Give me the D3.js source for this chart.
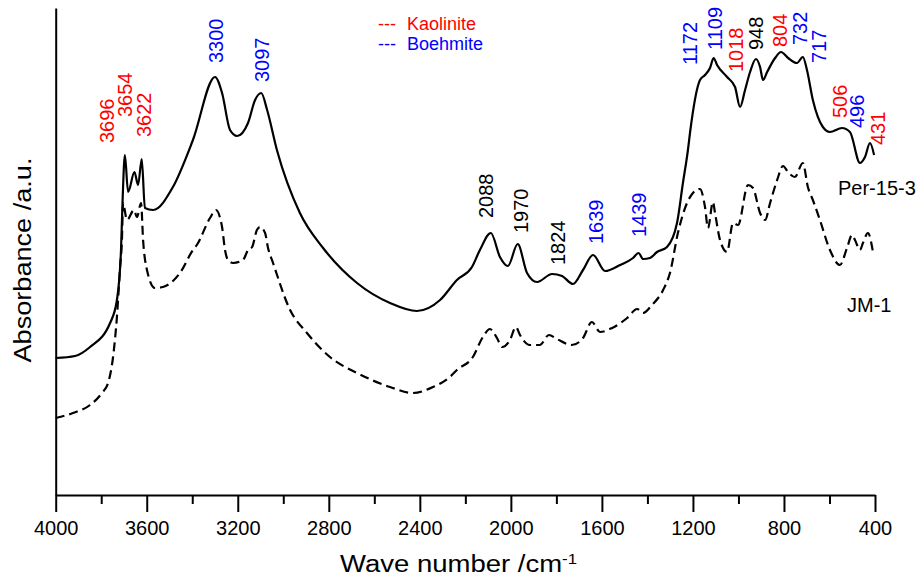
<!DOCTYPE html>
<html>
<head>
<meta charset="utf-8">
<script src="https://cdn.jsdelivr.net/npm/d3@7"></script>
<style>
  body { margin: 0; background: #fff; }
  text { font-family: Arial, "Liberation Sans", sans-serif; }
</style>
</head>
<body>
<div id="chart"></div>
<script>
// Per-15-3 spectrum (solid) : wave number (cm-1), absorbance (a.u.)
const per15Wave = [4000, 3915, 3849, 3761, 3731, 3713, 3706, 3696, 3682, 3654, 3638, 3622, 3608, 3572, 3485, 3397,
  3300, 3269, 3234, 3203, 3155, 3124, 3097, 3071, 3028, 2927, 2825, 2676, 2531, 2413, 2311, 2237, 2171, 2136,
  2088, 2048, 2013, 1970, 1929, 1885, 1819, 1775, 1727, 1683, 1639, 1586, 1520, 1463, 1439, 1419, 1389, 1358,
  1314, 1270, 1244, 1222, 1213, 1169, 1147, 1125, 1109, 1094, 1050, 1015, 993, 971, 949, 923, 905, 892, 874,
  839, 813, 782, 743, 717, 699, 673, 629, 598, 545, 510, 466, 444, 422, 404];
const per15Abs = [1.37, 1.39, 1.48, 1.72, 1.95, 2.45, 2.95, 3.40, 3.03, 3.23, 3.10, 3.36, 2.87, 2.85, 3.08, 3.55,
  4.18, 4.02, 3.65, 3.59, 3.72, 3.95, 4.02, 3.85, 3.45, 2.82, 2.47, 2.12, 1.92, 1.84, 1.95, 2.15, 2.28, 2.45,
  2.62, 2.38, 2.29, 2.51, 2.22, 2.13, 2.21, 2.19, 2.11, 2.25, 2.40, 2.24, 2.30, 2.37, 2.42, 2.36, 2.37, 2.43,
  2.48, 2.72, 3.12, 3.45, 3.62, 4.15, 4.20, 4.27, 4.37, 4.30, 4.18, 4.08, 3.88, 4.05, 4.23, 4.36, 4.28, 4.15, 4.23,
  4.37, 4.43, 4.37, 4.32, 4.38, 4.25, 3.95, 3.68, 3.63, 3.67, 3.63, 3.32, 3.38, 3.52, 3.40];

// JM-1 spectrum (dashed)
const jm1Wave = [4000, 3924, 3849, 3797, 3770, 3748, 3731, 3717, 3709, 3704, 3687, 3656, 3643, 3625, 3616, 3599,
  3564, 3529, 3454, 3397, 3380, 3322, 3296, 3269, 3256, 3243, 3221, 3177, 3155, 3137, 3116, 3102, 3080, 3067,
  3045, 2970, 2896, 2795, 2676, 2531, 2430, 2342, 2268, 2237, 2167, 2123, 2092, 2061, 2039, 2004, 1978, 1960,
  1917, 1873, 1833, 1798, 1732, 1683, 1644, 1608, 1555, 1489, 1445, 1419, 1380, 1331, 1301, 1266, 1226, 1200,
  1169, 1147, 1134, 1112, 1103, 1081, 1050, 1024, 1002, 958, 936, 905, 883, 861, 830, 804, 782, 752, 717, 695,
  673, 642, 598, 554, 523, 501, 488, 466, 453, 431, 409];
const jm1Abs = [0.77, 0.82, 0.90, 1.02, 1.12, 1.38, 1.78, 2.28, 2.55, 2.92, 2.75, 2.85, 2.78, 2.92, 2.55, 2.25,
  2.07, 2.08, 2.22, 2.45, 2.50, 2.77, 2.85, 2.68, 2.45, 2.35, 2.32, 2.35, 2.45, 2.48, 2.65, 2.68, 2.62, 2.47,
  2.32, 1.85, 1.62, 1.38, 1.22, 1.08, 1.02, 1.08, 1.18, 1.25, 1.38, 1.58, 1.66, 1.57, 1.48, 1.55, 1.68, 1.60,
  1.50, 1.50, 1.60, 1.56, 1.50, 1.57, 1.73, 1.63, 1.67, 1.77, 1.86, 1.82, 1.90, 2.05, 2.22, 2.62, 2.92, 3.02,
  3.06, 2.88, 2.67, 2.93, 2.82, 2.55, 2.43, 2.72, 2.70, 3.10, 3.07, 2.82, 2.75, 2.92, 3.15, 3.29, 3.23, 3.18, 3.32, 3.08,
  2.95, 2.75, 2.45, 2.30, 2.47, 2.60, 2.55, 2.45, 2.52, 2.62, 2.43];

// Peak annotations: text, mineral, label anchor (wave number, absorbance at label foot)
const peakText = ["3696", "3654", "3622", "3300", "3097", "2088", "1970", "1824", "1639", "1439",
  "1172", "1109", "1018", "948", "804", "732", "717", "506", "496", "431"];
const peakMineral = ["K", "K", "K", "B", "B", "-", "-", "-", "B", "B",
  "B", "B", "K", "-", "K", "B", "B", "K", "B", "K"];
const peakAnchorWave = [3774, 3695, 3612, 3296, 3094, 2110, 1955, 1792, 1625, 1437,
  1213, 1103, 1011, 923, 818, 730, 646, 554, 480, 387];
const peakAnchorAbs = [3.52, 3.78, 3.58, 4.32, 4.13, 2.77, 2.62, 2.30, 2.51, 2.58,
  4.30, 4.45, 4.23, 4.45, 4.48, 4.50, 4.32, 3.77, 3.67, 3.50];

const legendNames = ["Kaolinite", "Boehmite"];
const xTicks = [4000, 3600, 3200, 2800, 2400, 2000, 1600, 1200, 800, 400];
const xMinorTicks = [3800, 3400, 3000, 2600, 2200, 1800, 1400, 1000, 600];

const mineralColor = { K: "#ff0000", B: "#0000ff", "-": "#000000" };

const width = 919;
const height = 581;

const svg = d3.select("#chart")
  .append("svg")
  .attr("width", width)
  .attr("height", height);

const x = d3.scaleLinear().domain([4000, 400]).range([55.7, 875]);
const y = d3.scaleLinear().domain([0, 4.87]).range([495, 8]);

// Spectra
const line = d3.line()
  .x(d => x(d[0]))
  .y(d => y(d[1]))
  .curve(d3.curveMonotoneX);

svg.append("path")
  .datum(d3.zip(per15Wave, per15Abs))
  .attr("d", line)
  .attr("fill", "none")
  .attr("stroke", "#000")
  .attr("stroke-width", 2.2)
  .attr("stroke-linejoin", "round");

svg.append("path")
  .datum(d3.zip(jm1Wave, jm1Abs))
  .attr("d", line)
  .attr("fill", "none")
  .attr("stroke", "#000")
  .attr("stroke-width", 2.2)
  .attr("stroke-dasharray", "9,5");

// Axes
const xAxis = svg.append("g")
  .attr("transform", `translate(0,${y(0)})`)
  .call(d3.axisBottom(x).tickValues(xTicks).tickFormat(d3.format("d"))
    .tickSize(17).tickSizeOuter(0).tickPadding(9));
xAxis.select(".domain").attr("stroke-width", 2);
xAxis.selectAll(".tick line").attr("stroke-width", 2);
xAxis.selectAll(".tick text")
  .attr("fill", "#000")
  .style("font-size", "20px")
  .style("font-family", "Arial, 'Liberation Sans', sans-serif");

const xMinor = svg.append("g")
  .attr("transform", `translate(0,${y(0)})`)
  .call(d3.axisBottom(x).tickValues(xMinorTicks).tickFormat("").tickSize(9).tickSizeOuter(0));
xMinor.select(".domain").remove();
xMinor.selectAll(".tick line").attr("stroke-width", 2);

const yAxis = svg.append("g")
  .attr("transform", `translate(${x(4000)},0)`)
  .call(d3.axisLeft(y).tickValues([]).tickSizeOuter(0));
yAxis.select(".domain").attr("stroke-width", 2);

// Axis titles
const xTitle = svg.append("text")
  .attr("x", 340)
  .attr("y", 572)
  .attr("textLength", 237)
  .attr("lengthAdjust", "spacingAndGlyphs")
  .style("font-size", "23px");
xTitle.append("tspan").text("Wave number /cm");
xTitle.append("tspan").attr("dy", "-0.55em").style("font-size", "14px").text("-1");

svg.append("text")
  .attr("transform", "translate(23,260) rotate(-90)")
  .attr("text-anchor", "middle")
  .attr("dy", "0.35em")
  .attr("textLength", 205)
  .attr("lengthAdjust", "spacingAndGlyphs")
  .style("font-size", "23px")
  .text("Absorbance /a.u.");

// Peak labels
svg.selectAll(".peak")
  .data(peakText)
  .enter().append("text")
  .attr("class", "peak")
  .attr("transform", (d, i) => `translate(${x(peakAnchorWave[i])},${y(peakAnchorAbs[i])}) rotate(-90)`)
  .attr("dy", "0.35em")
  .attr("fill", (d, i) => mineralColor[peakMineral[i]])
  .style("font-size", "20px")
  .text(d => d);

// Legend
const legend = svg.selectAll(".legend")
  .data(legendNames)
  .enter().append("g")
  .attr("class", "legend")
  .attr("transform", (d, i) => `translate(378,${30 + i * 20})`);

legend.append("text")
  .attr("fill", (d, i) => i === 0 ? mineralColor.K : mineralColor.B)
  .style("font-size", "18px")
  .text("---");

legend.append("text")
  .attr("x", 29)
  .attr("fill", (d, i) => i === 0 ? mineralColor.K : mineralColor.B)
  .style("font-size", "18px")
  .text(d => d);

// Curve names
svg.append("text")
  .attr("x", 838)
  .attr("y", 195)
  .style("font-size", "20px")
  .text("Per-15-3");

svg.append("text")
  .attr("x", 847)
  .attr("y", 312)
  .style("font-size", "20px")
  .text("JM-1");
</script>
</body>
</html>
